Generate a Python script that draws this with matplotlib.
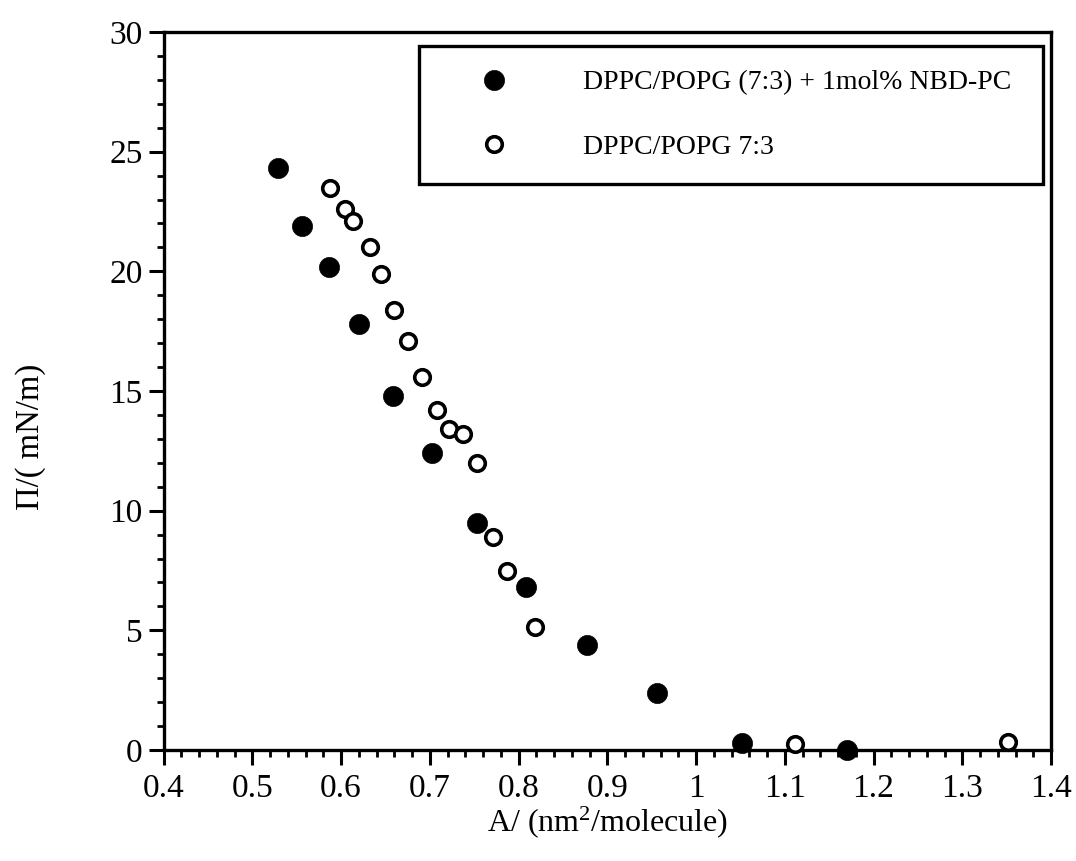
import matplotlib
matplotlib.use("Agg")
import matplotlib.pyplot as plt
from matplotlib.ticker import MultipleLocator, FuncFormatter

plt.rcParams['font.family'] = ['Liberation Serif', 'DejaVu Serif']
plt.rcParams['mathtext.fontset'] = 'custom'
plt.rcParams['mathtext.rm'] = 'Liberation Serif'
plt.rcParams['mathtext.it'] = 'Liberation Serif:italic'

# Data
area_nbd = [0.529, 0.556, 0.586, 0.620, 0.659, 0.702, 0.753, 0.808, 0.877, 0.956, 1.052, 1.170]
pi_nbd = [24.3, 21.9, 20.2, 17.8, 14.8, 12.4, 9.5, 6.8, 4.4, 2.4, 0.28, 0.0]

area_pure = [0.588, 0.604, 0.613, 0.633, 0.645, 0.660, 0.676, 0.691, 0.708, 0.722, 0.737,
             0.753, 0.771, 0.787, 0.819, 1.112, 1.351]
pi_pure = [23.5, 22.6, 22.1, 21.0, 19.9, 18.4, 17.1, 15.6, 14.2, 13.4, 13.2,
           12.0, 8.9, 7.5, 5.15, 0.25, 0.35]

label_nbd = "DPPC/POPG (7:3) + 1mol% NBD-PC"
label_pure = "DPPC/POPG 7:3"

x_label = r"A/ (nm$^{2}$/molecule)"
y_label = "\u03a0/( mN/m)"

fig = plt.figure(figsize=(10.76, 8.61), dpi=100)
ax = fig.add_axes([163.5/1076, 1 - 750/861, 887.5/1076, 718/861])

ax.plot(area_nbd, pi_nbd, linestyle='none', marker='o', ms=14.5, mfc='black',
        mec='black', mew=0.5, label=label_nbd, clip_on=False, zorder=3)
ax.plot(area_pure, pi_pure, linestyle='none', marker='o', ms=11.2, mfc='white',
        mec='black', mew=2.6, label=label_pure, clip_on=False, zorder=3)

ax.set_xlim(0.4, 1.4)
ax.set_ylim(0, 30)

ax.xaxis.set_major_locator(MultipleLocator(0.1))
ax.xaxis.set_minor_locator(MultipleLocator(0.02))
ax.yaxis.set_major_locator(MultipleLocator(5))
ax.yaxis.set_minor_locator(MultipleLocator(1))

def xfmt(v, pos):
    s = f"{v:.1f}"
    if abs(v - 1.0) < 1e-9:
        s = "1"
    return s
ax.xaxis.set_major_formatter(FuncFormatter(xfmt))

for sp in ax.spines.values():
    sp.set_linewidth(2.4)

ax.tick_params(which='major', direction='out', length=11, width=2.2, labelsize=24,
               top=False, right=False, pad=4)
ax.tick_params(which='minor', direction='out', length=5, width=2.0,
               top=False, right=False)
ax.tick_params(axis='x', which='major', pad=6)

ax.set_xlabel(x_label, fontsize=23)
ax.xaxis.set_label_coords(0.5, -0.100)
ax.xaxis.label.set_va('center')
ax.set_ylabel(y_label, fontsize=23.5)
ax.yaxis.set_label_coords(-0.150, 0.436)
ax.yaxis.label.set_va('center')

leg = ax.legend(loc='upper left', bbox_to_anchor=(0.288, 0.980, 0.703, 0.0),
                mode='expand', fontsize=20, frameon=True, fancybox=False,
                borderpad=0.85, labelspacing=1.41, handlelength=3.7,
                handletextpad=1.35, borderaxespad=0.0, numpoints=1)
leg.get_frame().set_edgecolor('black')
leg.get_frame().set_linewidth(2.4)
leg.get_frame().set_facecolor('white')
leg.get_frame().set_alpha(1)

fig.savefig("out.png", dpi=100, facecolor='white')
